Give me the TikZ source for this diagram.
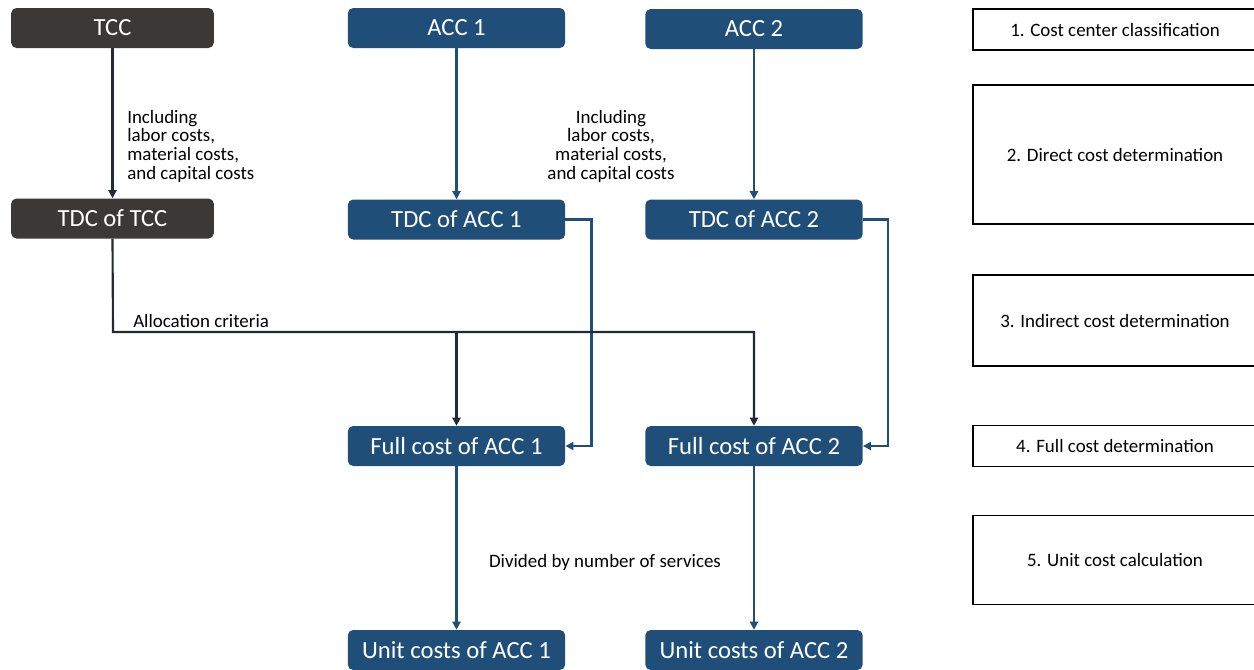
\documentclass[tikz,border=0pt]{standalone}
\usepackage{fontspec}
\setmainfont{Carlito}
\usetikzlibrary{arrows.meta}
\definecolor{accblue}{HTML}{1F4E79}
\definecolor{tccgray}{HTML}{3B3838}
\definecolor{dkline}{HTML}{222A35}
\tikzset{
  box/.style={rounded corners=4pt, minimum height=30pt, inner sep=0pt, text=white, font=\fontsize{18.5}{21}\selectfont},
  tccbox/.style={box, fill=tccgray, minimum width=152pt},
  accbox/.style={box, fill=accblue, minimum width=163pt},
  stepbox/.style={draw=black, line width=1.1pt, minimum width=213pt, inner sep=0pt, font=\fontsize{14.2}{16}\selectfont},
  lbl/.style={font=\fontsize{14.2}{14}\selectfont, inner sep=0pt, text=black},
  dkarrow/.style={draw=dkline, line width=1.6pt, -{Triangle[length=6pt,width=6pt]}},
  blarrow/.style={draw=accblue, line width=1.6pt, -{Triangle[length=6pt,width=6pt]}},
}
\begin{document}
\begin{tikzpicture}[x=0.75pt,y=-0.75pt]
\useasboundingbox (0,0) rectangle (1254,669);
\clip (0,0) rectangle (1254,669);
\fill[white] (0,0) rectangle (1254,669);
% main nodes
\node[tccbox] (tcc) at (112.5,28) {TCC};
\node[accbox] (acc1) at (456.5,28) {ACC 1};
\node[accbox] (acc2) at (754,29) {ACC 2};
\node[tccbox] (tdctcc) at (112.5,218.5) {TDC of TCC};
\node[accbox] (tdc1) at (456.5,219.5) {TDC of ACC 1};
\node[accbox] (tdc2) at (754,219.5) {TDC of ACC 2};
\node[accbox] (full1) at (456.5,446) {Full cost of ACC 1};
\node[accbox] (full2) at (754,446) {Full cost of ACC 2};
\node[accbox] (unit1) at (456.5,650) {Unit costs of ACC 1};
\node[accbox] (unit2) at (754,650) {Unit costs of ACC 2};
% step boxes
\node[stepbox, minimum height=31pt] (s1) at (1115,29.5) {1. Cost center classification};
\node[stepbox, minimum height=104pt] (s2) at (1115,154.5) {2. Direct cost determination};
\node[stepbox, minimum height=68pt] (s3) at (1115,320.5) {3. Indirect cost determination};
\node[stepbox, minimum height=31pt] (s4) at (1115,446) {4. Full cost determination};
\node[stepbox, minimum height=67pt] (s5) at (1115,560) {5. Unit cost calculation};
% labels
\node[lbl, align=left, anchor=west] (inc1) at (127,146) {Including\\labor costs,\\material costs,\\and capital costs};
\node[lbl, align=center] (inc2) at (611,146) {Including\\labor costs,\\material costs,\\and capital costs};
\node[lbl, anchor=west] (alloc) at (133,321) {Allocation criteria};
\node[lbl] (div) at (605,562) {Divided by number of services};
% connectors
\draw[dkarrow] (tcc) -- (tdctcc);
\draw[blarrow] (acc1) -- (tdc1);
\draw[blarrow] (acc2) -- (tdc2);
\coordinate (aj) at (113,332);
\draw[blarrow] (tdc1.east) -- ++(26,0) |- (full1.east);
\draw[blarrow] (tdc2.east) -- ++(25,0) |- (full2.east);
\draw[dkarrow] (tdctcc.south) -- (aj) -| (full2.north);
\draw[dkarrow] (aj -| full1.north) -- (full1.north);
\draw[blarrow] (full1) -- (unit1);
\draw[blarrow] (full2) -- (unit2);
\end{tikzpicture}
\end{document}
